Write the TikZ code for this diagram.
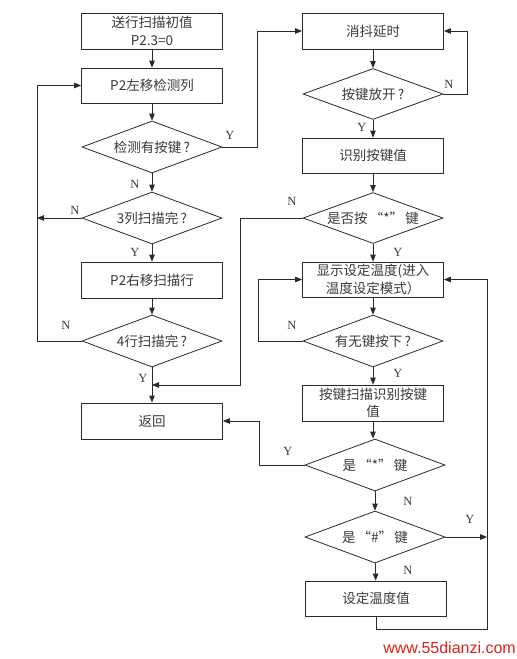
\documentclass[tikz,border=0pt]{standalone}
\usepackage{fontspec}
\setmainfont{Liberation Serif}
\newfontfamily\cjk{Noto Sans CJK SC}
\newfontfamily\wmfont{Liberation Sans}
\usetikzlibrary{shapes.geometric,arrows.meta}
\definecolor{linec}{HTML}{2A2A2A}
\definecolor{textc}{HTML}{3A3A3A}
\definecolor{wmred}{HTML}{E0201A}
\begin{document}
\begin{tikzpicture}[x=1pt,y=-1pt,
  proc/.style={draw=linec, line width=0.8pt, minimum width=141pt, minimum height=35pt,
    inner sep=1pt, font=\cjk\fontsize{13.5}{17.5}\selectfont, text=textc, align=center},
  dec/.style={diamond, draw=linec, line width=0.8pt, aspect=2.7, minimum width=140pt,
    minimum height=52pt, inner sep=0pt, font=\cjk\fontsize{13.5}{17}\selectfont, text=textc},
  arr/.style={-{Triangle[length=7pt,width=5.5pt]}, line width=0.8pt, draw=linec},
  ln/.style={line width=0.8pt, draw=linec},
  lbl/.style={font=\fontsize{12.5}{13}\selectfont, text=textc, inner sep=0pt}]
\useasboundingbox (0,0) rectangle (517,659);
% left column
\node[proc, minimum height=36pt] (b1) at (152,31) {送行扫描初值\\P2.3=0};
\node[proc] (b2) at (152,85.5) {P2左移检测列};
\node[dec] (d1) at (152,147) {检测有按键\,?};
\node[dec] (d2) at (152,218) {3列扫描完\,?};
\node[proc, minimum height=36pt] (b3) at (152,280) {P2右移扫描行};
\node[dec] (d3) at (152,341) {4行扫描完\,?};
\node[proc, minimum height=36pt] (ret) at (152,421) {返回};
% right column
\node[proc, minimum height=36pt] (r1) at (373,31) {消抖延时};
\node[dec, minimum height=51pt] (r2) at (373,94) {按键放开\,?};
\node[proc] (r3) at (373,155.5) {识别按键值};
\node[dec, minimum height=51pt] (r4) at (373,218) {是否按\,“*”\,键};
\node[proc] (r5) at (373,279.5) {显示设定温度(进入\\温度设定模式）};
\node[dec] (r6) at (373,341) {有无键按下\,?};
\node[proc, minimum height=36pt] (r7) at (373,403) {按键扫描识别按键\\值};
\node[dec] (r8) at (375,465) {是\,“*”\,键};
\node[dec] (r9) at (375,537) {是\,“\#”\,键};
\node[proc] (r10) at (376,598.5) {设定温度值};
% coordinates
\coordinate (J) at (152,385);
\coordinate (LL) at (37,218);
\coordinate (RJ) at (487,537);
% left connectors
\draw[arr] (b1) -- (b2);
\draw[arr] (b2) -- (d1);
\draw[arr] (d1) -- (d2);
\draw[arr] (d2) -- (b3);
\draw[arr] (b3) -- (d3);
\draw[arr] (d3) -- (ret);
\draw[arr] (d2.west) -- (LL);
\draw[arr] (d3.west) -- (37,341) -- (37,85.5) -- (b2.west);
\draw[arr] (d1.east) -- (257,147) -- (257,31) -- (r1.west);
% right connectors
\draw[arr] (r1) -- (r2);
\draw[arr] (r2.east) -- (467,94) -- (467,31) -- (r1.east);
\draw[arr] (r2) -- (r3);
\draw[arr] (r3) -- (r4);
\draw[arr] (r4) -- (r5);
\draw[arr] (r5) -- (r6);
\draw[arr] (r6) -- (r7);
\draw[arr] (r7.south) -- (r7.south |- r8.north);
\draw[arr] (r8) -- (r9);
\draw[arr] (r9) -- (r10);
\draw[arr] (r4.west) -- (240,218) -- (240,385) -- (J);
\draw[arr] (r6.west) -- (258,341) -- (258,279.5) -- (r5.west);
\draw[arr] (r8.west) -- (259,465) -- (259,421) -- (ret.east);
\draw[arr] (r9.east) -- (RJ);
\draw[arr] (r10.south) -- (376,629) -- (487,629) -- (487,279.5) -- (r5.east);
% labels
\node[lbl] (y1) at (230,135) {Y};
\node[lbl] (n1) at (135,184) {N};
\node[lbl] (n2) at (75,210) {N};
\node[lbl] (y2) at (135,252) {Y};
\node[lbl] (n3) at (66,325) {N};
\node[lbl] (y3) at (143,378) {Y};
\node[lbl] (n4) at (449,84) {N};
\node[lbl] (y4) at (362,127) {Y};
\node[lbl] (n5) at (292,201) {N};
\node[lbl] (y5) at (398,252) {Y};
\node[lbl] (n6) at (292,325) {N};
\node[lbl] (y6) at (398,373) {Y};
\node[lbl] (y7) at (288,451) {Y};
\node[lbl] (n7) at (408,501) {N};
\node[lbl] (y8) at (470,519) {Y};
\node[lbl] (n8) at (408,570) {N};
% watermark
\node[font=\wmfont\fontsize{16}{16}\selectfont, text=wmred, inner sep=0pt, anchor=east] (wm) at (516,648) {www.55dianzi.com};
\end{tikzpicture}
\end{document}
